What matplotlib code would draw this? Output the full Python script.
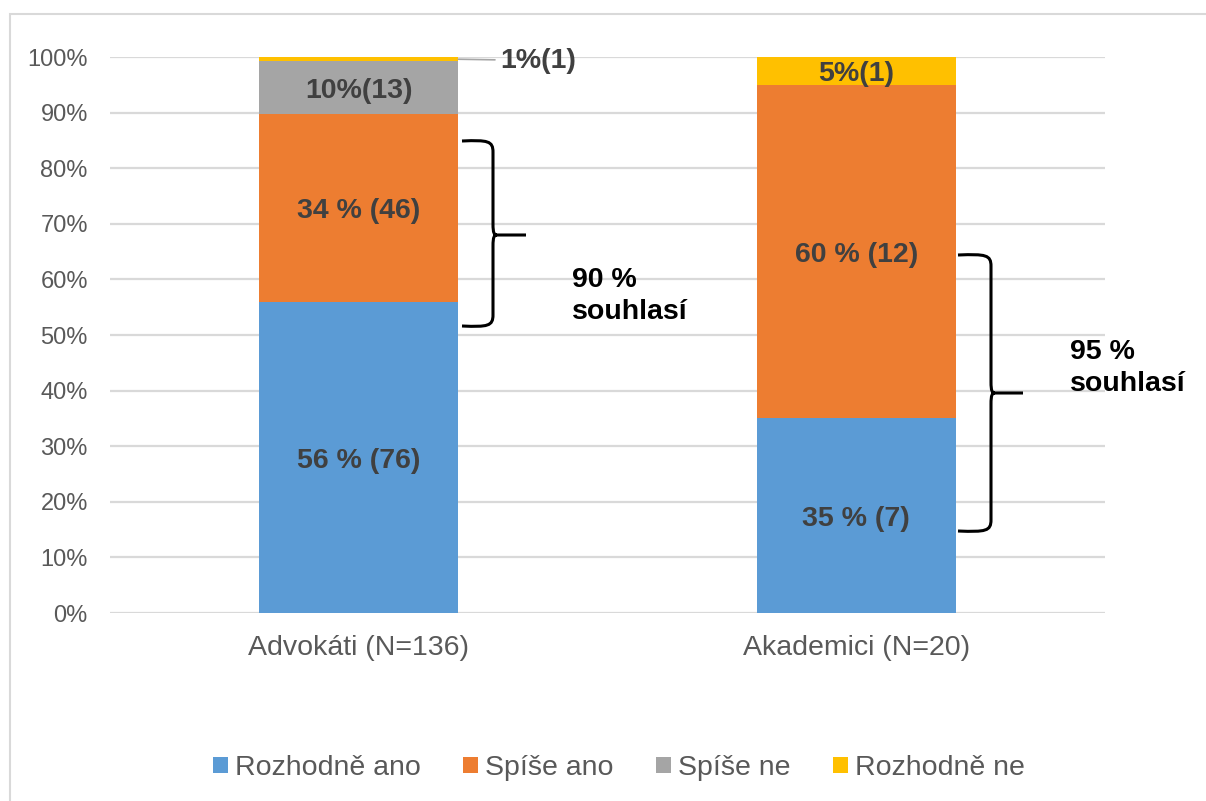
import matplotlib
matplotlib.use("Agg")
import matplotlib.pyplot as plt
from matplotlib.path import Path
from matplotlib.patches import PathPatch, Rectangle

plt.rcParams['font.family'] = ['Liberation Sans', 'DejaVu Sans']

categories = ["Advokáti (N=136)", "Akademici (N=20)"]
series_names = ["Rozhodně ano", "Spíše ano", "Spíše ne", "Rozhodně ne"]
rozhodne_ano = [55.9, 35.0]
spise_ano = [33.8, 60.0]
spise_ne = [9.6, 0.0]
rozhodne_ne = [0.7, 5.0]
series = [rozhodne_ano, spise_ano, spise_ne, rozhodne_ne]
colors = ["#5B9BD5", "#ED7D31", "#A5A5A5", "#FFC000"]

labels = [
    ["56 % (76)", "35 % (7)"],
    ["34 % (46)", "60 % (12)"],
    ["10%(13)", None],
    [None, "5%(1)"],
]
outside_label = "1%(1)"
brace_texts = ["90 %\nsouhlasí", "95 %\nsouhlasí"]

fig = plt.figure(figsize=(12.06, 8.01), dpi=100)
ax = fig.add_axes([110/1206, 1-613/801, 995/1206, 556/801])

x = list(range(len(categories)))
bottoms = [0.0] * len(categories)
handles = []
for vals, col, name, labs in zip(series, colors, series_names, labels):
    b = ax.bar(x, vals, width=0.4, bottom=bottoms, color=col, label=name, zorder=3)
    handles.append(b)
    for i, (v, lab) in enumerate(zip(vals, labs)):
        if lab:
            ax.text(x[i], bottoms[i] + v/2, lab, ha='center', va='center_baseline',
                    fontsize=20.5, fontweight='bold', color='#404040', zorder=4)
    bottoms = [bb + v for bb, v in zip(bottoms, vals)]

# outside label for the 1% slice
ax.annotate(outside_label, xy=(0.2, 99.6), xytext=(0.285, 99.9),
            ha='left', va='center_baseline', fontsize=20.5, fontweight='bold', color='#404040',
            arrowprops=dict(arrowstyle='-', color='#A6A6A6', lw=1.2, shrinkA=2, shrinkB=0),
            annotation_clip=False, zorder=4)

ax.set_xlim(-0.5, 1.5)
ax.set_ylim(0, 100)
ax.set_yticks(range(0, 101, 10))
ax.set_yticklabels([f"{t}%" for t in range(0, 101, 10)])
ax.set_xticks(x)
ax.set_xticklabels(categories)
ax.tick_params(axis='y', length=0, pad=16, labelsize=17, labelcolor='#595959')
ax.tick_params(axis='x', length=0, pad=16, labelsize=20.5, labelcolor='#595959')
ax.grid(axis='y', color='#D9D9D9', lw=1.6, zorder=0)
ax.set_axisbelow(True)
for s in ax.spines.values():
    s.set_visible(False)


def brace(ax, xa, ytop, ybot, ymid, dv, dt):
    v = xa + dv
    t = v + dt
    r = 2.0
    s = 0.008
    verts = [
        (xa, ytop), (v - 0.01, ytop + 0.2), (v, ytop), (v, ytop - r),
        (v, ymid + r),
        (v, ymid + 0.3), (v + s * 0.3, ymid), (v + s, ymid),
        (t, ymid),
        (v + s, ymid),
        (v + s * 0.3, ymid), (v, ymid - 0.3), (v, ymid - r),
        (v, ybot + r),
        (v, ybot), (v - 0.01, ybot - 0.2), (xa, ybot),
    ]
    codes = [Path.MOVETO, Path.CURVE4, Path.CURVE4, Path.CURVE4,
             Path.LINETO,
             Path.CURVE4, Path.CURVE4, Path.CURVE4,
             Path.LINETO,
             Path.MOVETO,
             Path.CURVE4, Path.CURVE4, Path.CURVE4,
             Path.LINETO,
             Path.CURVE4, Path.CURVE4, Path.CURVE4]
    ax.add_patch(PathPatch(Path(verts, codes), fill=False, lw=2.2, color='black',
                           capstyle='butt', joinstyle='round', zorder=5, clip_on=False))


def px2x(px):
    return (px - 110) / 995 * 2 - 0.5


def py2y(py):
    return (613 - py) / 556 * 100


brace(ax, px2x(462), py2y(141), py2y(326), py2y(235), px2x(493) - px2x(462), px2x(526) - px2x(493))
brace(ax, px2x(958), py2y(255), py2y(531), py2y(393), px2x(991) - px2x(958), px2x(1023) - px2x(991))

ax.text(px2x(572), py2y(296), brace_texts[0], ha='left', va='center', fontsize=20.5,
        fontweight='bold', color='black', linespacing=1.3)
ax.text(px2x(1070), py2y(368), brace_texts[1], ha='left', va='center', fontsize=20.5,
        fontweight='bold', color='black', linespacing=1.3, clip_on=False)

leg = fig.legend(handles=handles, labels=series_names, loc='center',
                 bbox_to_anchor=(619/1206, 1 - 768/801), ncol=4, frameon=False,
                 fontsize=20.5, handlelength=0.52, handleheight=0.52,
                 handletextpad=0.25, columnspacing=1.5)
for t in leg.get_texts():
    t.set_color('#595959')

fig.patches.append(Rectangle((10/1206, -0.1), 1.2, 1 - 14/801 + 0.1, transform=fig.transFigure,
                             fill=False, edgecolor='#D9D9D9', lw=1.5, zorder=0))

fig.savefig("out.png", dpi=100)
